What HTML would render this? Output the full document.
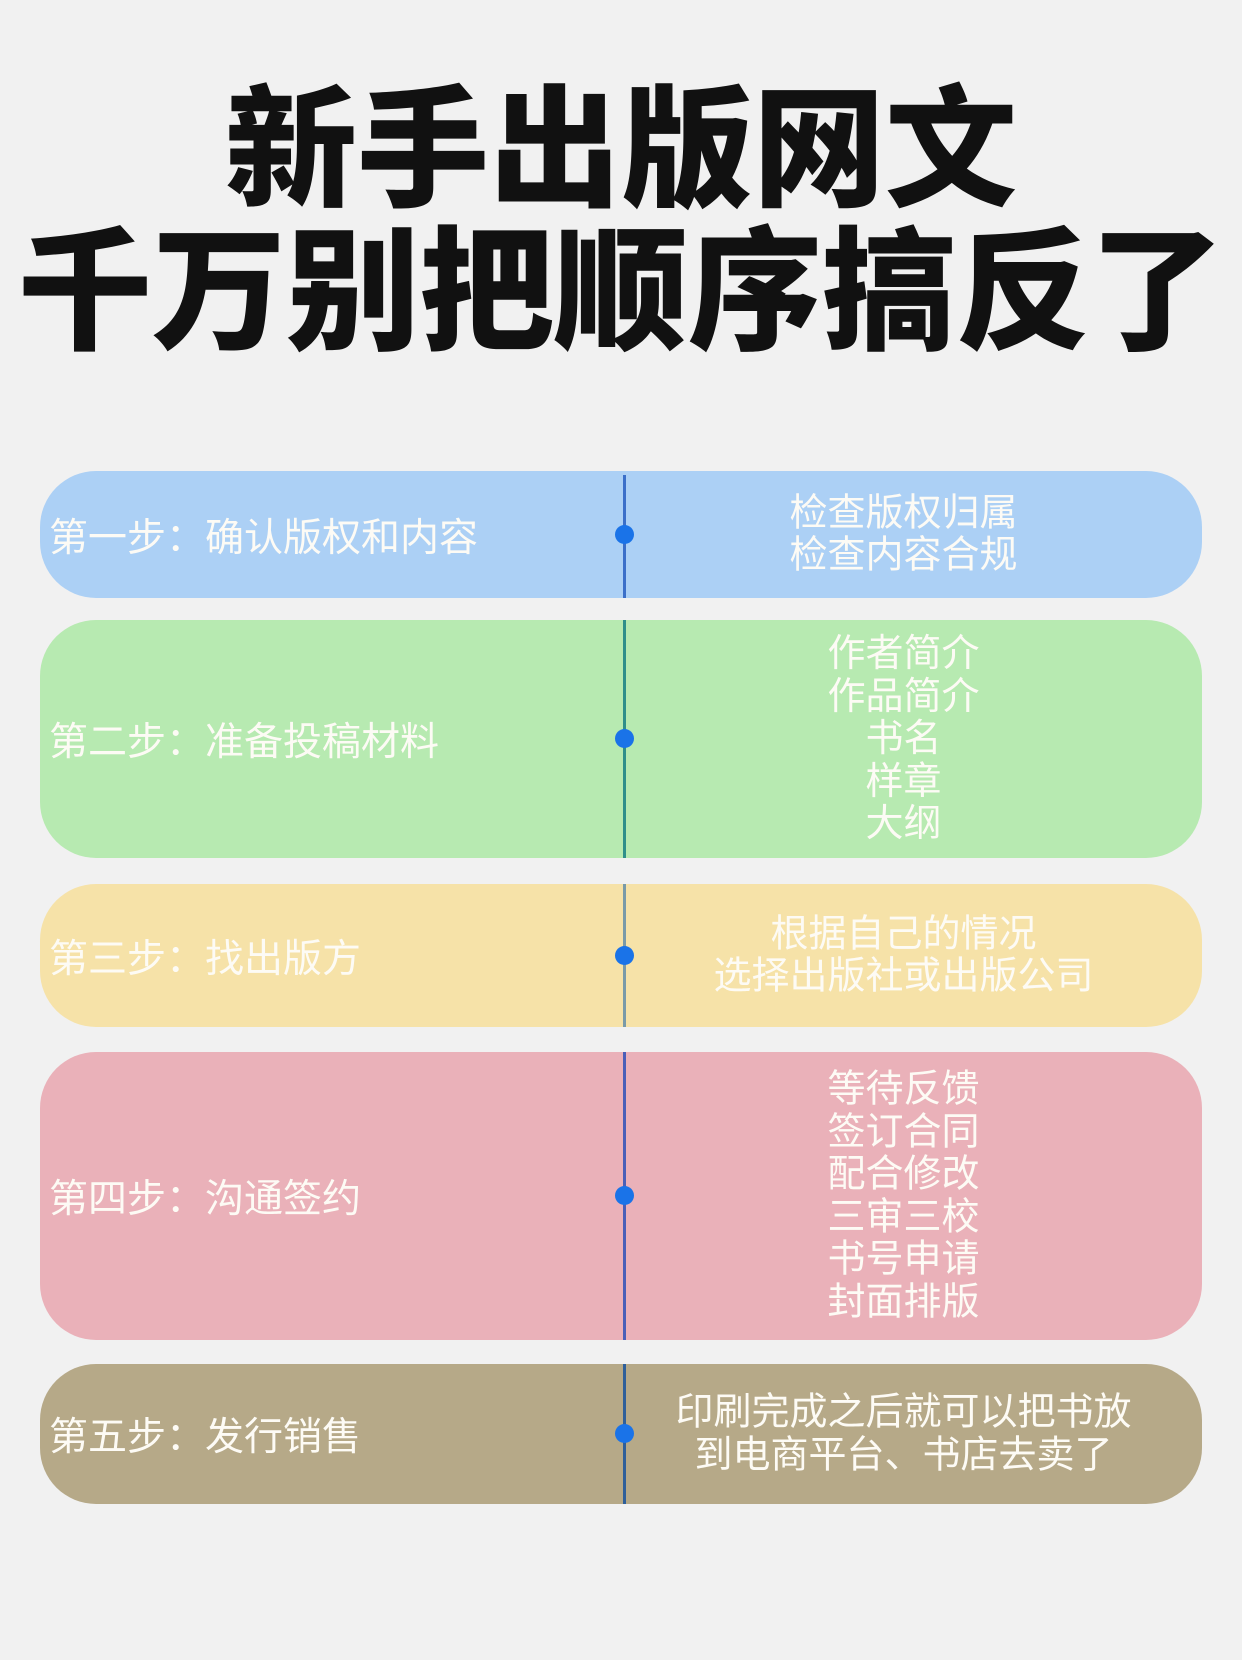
<!DOCTYPE html>
<html><head><meta charset="utf-8"><style>
html,body{margin:0;padding:0}
body{width:1242px;height:1660px;background:#f1f1f1;position:relative;overflow:hidden;font-family:"Liberation Sans","Noto Sans CJK SC",sans-serif}
.t{position:absolute;left:0;width:1242px;text-align:center;font-weight:900;color:#111;font-size:132px;line-height:140px;white-space:nowrap;font-family:"Noto Sans CJK SC",sans-serif}
.box{position:absolute;left:40px;width:1162px;border-radius:56px}
.line{position:absolute;left:583px;top:4px;bottom:0;width:3px;background:#3b6fc9}
.dot{position:absolute;left:575px;width:19px;height:19px;border-radius:50%;background:#1a73e8;margin-top:-10px;top:50%}
.l{position:absolute;left:9px;top:50%;transform:translateY(-50%);color:#fdfbf5;font-size:39px;white-space:nowrap}
.r{position:absolute;left:585px;right:20px;top:50%;transform:translateY(-50%);text-align:center;color:#fdfbf5;font-size:38px;line-height:42.5px;white-space:nowrap}
</style></head><body>
<div class="t" style="top:70px">新手出版网文</div>
<div class="t" style="top:211px;font-size:134px">千万别把顺序搞反了</div>

<div class="box" style="top:471px;height:127px;background:#acd0f5">
<div class="line"></div><div class="dot"></div>
<div class="l">第一步：确认版权和内容</div>
<div class="r">检查版权归属<br>检查内容合规</div></div>

<div class="box" style="top:620px;height:238px;background:#b7eab1">
<div class="line" style="background:#2f8f8a;top:0"></div><div class="dot"></div>
<div class="l">第二步：准备投稿材料</div>
<div class="r">作者简介<br>作品简介<br>书名<br>样章<br>大纲</div></div>

<div class="box" style="top:884px;height:143px;background:#f6e2a8">
<div class="line" style="background:#7a9aa8;top:0"></div><div class="dot"></div>
<div class="l">第三步：找出版方</div>
<div class="r">根据自己的情况<br>选择出版社或出版公司</div></div>

<div class="box" style="top:1052px;height:288px;background:#eab1b9">
<div class="line" style="background:#4a5fb8;top:0"></div><div class="dot"></div>
<div class="l">第四步：沟通签约</div>
<div class="r">等待反馈<br>签订合同<br>配合修改<br>三审三校<br>书号申请<br>封面排版</div></div>

<div class="box" style="top:1364px;height:140px;background:#b6a988">
<div class="line" style="background:#2f5f9a;top:0"></div><div class="dot"></div>
<div class="l">第五步：发行销售</div>
<div class="r">印刷完成之后就可以把书放<br>到电商平台、书店去卖了</div></div>
</body></html>
